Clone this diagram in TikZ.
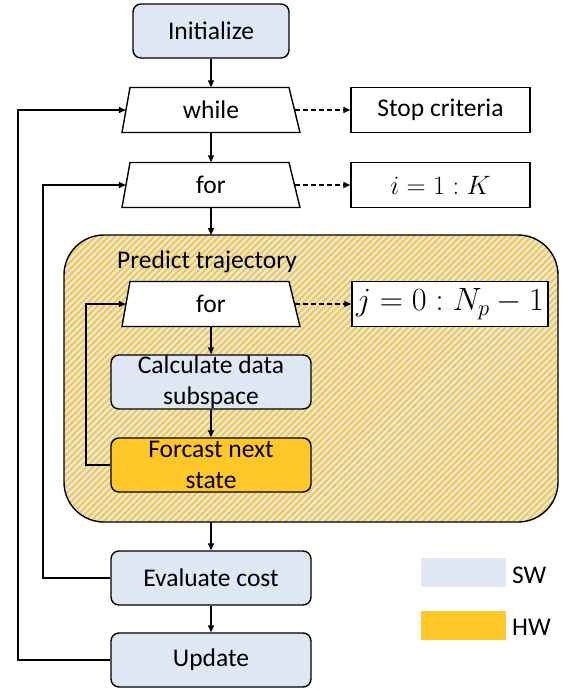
\RequirePackage{fix-cm}
\documentclass[tikz,border=0pt]{standalone}
\usepackage{fontspec}
\setmainfont{Carlito}
\usetikzlibrary{arrows.meta,patterns.meta}
\definecolor{swc}{HTML}{DEE7F3}
\definecolor{hwc}{HTML}{FFC828}
\tikzset{
  arr/.style={line width=1.4pt,-{Triangle[length=7pt,width=6pt]}},
  darr/.style={line width=1.4pt,dash pattern=on 5pt off 3pt,-{Triangle[length=7pt,width=6pt]}},
  rbox/.style={draw,line width=1.4pt,rounded corners=8pt,fill=swc,minimum width=200pt,minimum height=54pt,align=center,inner sep=0pt,font=\fontsize{25.5}{31}\selectfont},
  loopbox/.style={minimum width=178pt,minimum height=45pt,inner sep=0pt,font=\fontsize{25.5}{28}\selectfont},
  trapshape/.style={draw,line width=1.4pt,fill=white},
  condbox/.style={draw,line width=1.4pt,fill=white,minimum height=45pt,inner sep=0pt},
  leg/.style={minimum width=85pt,minimum height=29pt,inner sep=0pt},
  txt/.style={font=\fontsize{25.5}{28}\selectfont,inner sep=0pt},
}
\newcommand\trapz[2]{\draw[trapshape] (#1-89,#2+22.5) -- (#1+89,#2+22.5) -- (#1+78,#2-22.5) -- (#1-81,#2-22.5) -- cycle;}
\begin{document}
\begin{tikzpicture}[x=1pt,y=-1pt]
\useasboundingbox (0,0) rectangle (564,690);
% predict trajectory region
\fill[swc,rounded corners=40pt] (64,235) rectangle (558,522);
\fill[pattern={Lines[angle=45,distance=4.6pt,line width=1.9pt]},pattern color=hwc,rounded corners=40pt] (64,235) rectangle (558,522);
\draw[line width=1.4pt,rounded corners=40pt] (64,235) rectangle (558,522);
\node[txt,anchor=west] (ptl) at (117,262) {Predict trajectory};
\coordinate (ptop) at (211,235);
\coordinate (pbot) at (211,522);

\node[rbox,minimum width=156pt] (init) at (211,31) {Initialize};
\trapz{211}{110}
\node[loopbox] (while) at (211,110) {while};
\node[condbox,minimum width=179pt,txt] (stop) at (440.5,110) {Stop criteria};
\trapz{211}{185}
\node[loopbox] (for1) at (211,185) {for};
\node[condbox,minimum width=179pt] (ik) at (440.5,185) {\fontsize{23.5}{26}\selectfont\scalebox{1.13}{$i=1:K$}};
\trapz{211}{304}
\node[loopbox] (for2) at (211,304) {for};
\node[condbox,minimum width=196pt] (jn) at (450,304) {\fontsize{26}{30}\selectfont\scalebox{1.24}{$j=0:N_p-1$}};
\node[rbox] (calc) at (211,382) {Calculate data\\subspace};
\node[rbox,fill=hwc] (fore) at (211,465) {Forcast next\\state};
\node[rbox] (eval) at (211,578) {Evaluate cost};
\node[rbox] (upd) at (211,660) {Update};

\coordinate (lx1) at (18,0);
\coordinate (lx2) at (43,0);
\coordinate (lx3) at (86,0);

\draw[arr] (init) -- (while);
\draw[arr] (while) -- (for1);
\draw[arr] (for1) -- (ptop);
\draw[arr] (for2) -- (calc);
\draw[arr] (calc) -- (fore);
\draw[arr] (pbot) -- (eval);
\draw[arr] (eval) -- (upd);
\draw[darr] ([xshift=-5pt]while.east) -- (stop.west);
\draw[darr] ([xshift=-5pt]for1.east) -- (ik.west);
\draw[darr] ([xshift=-5pt]for2.east) -- (jn.west);
\draw[arr] (upd.west) -- (upd.west -| lx1) |- ([xshift=4pt]while.west);
\draw[arr] (eval.west) -- (eval.west -| lx2) |- ([xshift=4pt]for1.west);
\draw[arr] (fore.west) -- (fore.west -| lx3) |- ([xshift=4pt]for2.west);

% legend
\node[leg,fill=swc] (lsw) at (463.5,572.5) {};
\node[txt,anchor=west] (tsw) at (512,575) {SW};
\node[leg,fill=hwc] (lhw) at (463.5,625) {};
\node[txt,anchor=west] (thw) at (512,627) {HW};
\end{tikzpicture}
\end{document}
